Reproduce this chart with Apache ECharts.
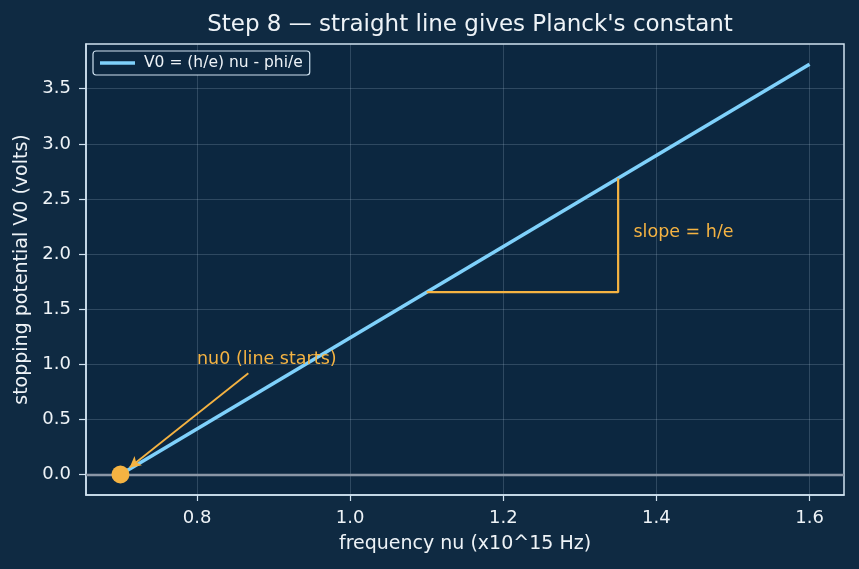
<!DOCTYPE html>
<html>
<head>
<meta charset="utf-8">
<script src="https://cdn.jsdelivr.net/npm/echarts@6/dist/echarts.min.js"></script>
<style>
  html, body { margin: 0; padding: 0; background: #0f2a42; }
  #chart { width: 859px; height: 569px; }
</style>
</head>
<body>
<div id="chart"></div>
<script>
// line V0 = (h/e) nu - phi/e, from nu0 to the last frequency
const nu = [0.7, 1.6];
const v0 = [0, 3.722];
const seriesName = "V0 = (h/e) nu - phi/e";

// slope triangle under the line
const slopeX = [1.1, 1.35, 1.35];
const slopeY = [1.654, 1.654, 2.688];

// annotations
const nu0Point = [0.7, 0];
const arrowFrom = [0.867, 0.918];
const arrowTo = [0.712, 0.064];
const nu0Text = [0.8, 1.0];
const slopeText = [1.37, 2.2];

// axes
const xTicks = [0.8, 1.0, 1.2, 1.4, 1.6];
const yTicks = [0, 0.5, 1.0, 1.5, 2.0, 2.5, 3.0, 3.5];
const xRange = [0.655, 1.645];
const yRange = [-0.186, 3.906];

const bg = "#0f2a42";
const plotBg = "#0c2740";
const spine = "#cfe2f0";
const textColor = "#eef3f7";
const gridColor = "rgba(190,210,230,0.2)";
const blue = "#7fd1fb";
const orange = "#f5b342";
const font = "DejaVu Sans";

let myChart = echarts.init(document.getElementById("chart"));

let option = {
  backgroundColor: bg,
  animation: false,
  title: {
    text: "Step 8 \u2014 straight line gives Planck's constant",
    left: 465,
    textAlign: "center",
    top: 9,
    textStyle: { color: textColor, fontFamily: font, fontSize: 23, fontWeight: "normal" }
  },
  legend: {
    left: 93,
    top: 51,
    padding: [4, 7, 4, 7],
    itemWidth: 35,
    itemHeight: 3.5,
    backgroundColor: plotBg,
    borderColor: spine,
    borderWidth: 1.2,
    borderRadius: 3,
    data: [{ name: seriesName, icon: "rect" }],
    itemStyle: { color: blue },
    textStyle: { color: textColor, fontFamily: font, fontSize: 15.5, padding: [0, 0, 0, 4] }
  },
  grid: {
    left: 86,
    right: 15,
    top: 44,
    bottom: 74,
    outerBoundsMode: "none",
    show: true,
    backgroundColor: plotBg,
    borderColor: spine,
    borderWidth: 1.5
  },
  xAxis: {
    type: "value",
    min: xRange[0],
    max: xRange[1],
    name: "frequency nu (x10^15 Hz)",
    nameLocation: "middle",
    nameGap: 40,
    nameTextStyle: { color: textColor, fontFamily: font, fontSize: 19 },
    axisLine: { show: true, onZero: false, lineStyle: { color: spine, width: 1.5 } },
    axisTick: { show: true, length: 6, customValues: xTicks, lineStyle: { color: spine, width: 1.2 } },
    axisLabel: {
      customValues: xTicks,
      color: textColor,
      fontFamily: font,
      fontSize: 18,
      margin: 14,
      formatter: v => v.toFixed(1)
    },
    splitLine: { show: true, lineStyle: { color: gridColor, width: 1 } }
  },
  yAxis: {
    type: "value",
    min: yRange[0],
    max: yRange[1],
    name: "stopping potential V0 (volts)",
    nameLocation: "middle",
    nameGap: 52,
    nameTextStyle: { color: textColor, fontFamily: font, fontSize: 19 },
    axisLine: { show: true, onZero: false, lineStyle: { color: spine, width: 1.5 } },
    axisTick: { show: true, length: 7, customValues: yTicks, lineStyle: { color: spine, width: 1.2 } },
    axisLabel: {
      customValues: yTicks,
      color: textColor,
      fontFamily: font,
      fontSize: 18,
      margin: 15,
      formatter: v => v.toFixed(1)
    },
    splitLine: { show: true, lineStyle: { color: gridColor, width: 1 } }
  },
  series: [
    {
      name: "zero",
      type: "line",
      data: [],
      silent: true,
      markLine: {
        silent: true,
        symbol: "none",
        label: { show: false },
        lineStyle: { color: "#8a96a6", width: 2.4, type: "solid", opacity: 1 },
        data: [{ yAxis: 0 }]
      },
      z: 1
    },
    {
      name: seriesName,
      type: "line",
      data: nu.map((x, i) => [x, v0[i]]),
      showSymbol: false,
      symbol: "none",
      lineStyle: { color: blue, width: 3.6 },
      itemStyle: { color: blue },
      z: 3
    },
    {
      name: "slope",
      type: "line",
      data: slopeX.map((x, i) => [x, slopeY[i]]),
      showSymbol: false,
      symbol: "none",
      lineStyle: { color: orange, width: 2.2 },
      z: 4
    },
    {
      name: "arrow",
      type: "line",
      data: [],
      markLine: {
        silent: true,
        label: { show: false },
        symbol: ["none", "arrow"],
        symbolSize: [9, 11],
        lineStyle: { color: orange, width: 1.8, type: "solid", opacity: 1 },
        data: [[{ coord: arrowFrom }, { coord: arrowTo }]]
      },
      z: 5
    },
    {
      name: "nu0",
      type: "scatter",
      data: [nu0Point],
      symbolSize: 18,
      itemStyle: { color: orange, opacity: 1 },
      z: 6
    },
    {
      name: "labels",
      type: "scatter",
      symbolSize: 0,
      itemStyle: { opacity: 1 },
      data: [
        { value: nu0Text, label: { formatter: "nu0 (line starts)", verticalAlign: "bottom", offset: [0, 4] } },
        { value: slopeText, label: { formatter: "slope = h/e", verticalAlign: "middle" } }
      ],
      label: {
        show: true,
        position: [0, 0],
        align: "left",
        color: orange,
        fontFamily: font,
        fontSize: 17.5
      },
      z: 6
    }
  ]
};
myChart.setOption(option);
</script>
</body>
</html>
